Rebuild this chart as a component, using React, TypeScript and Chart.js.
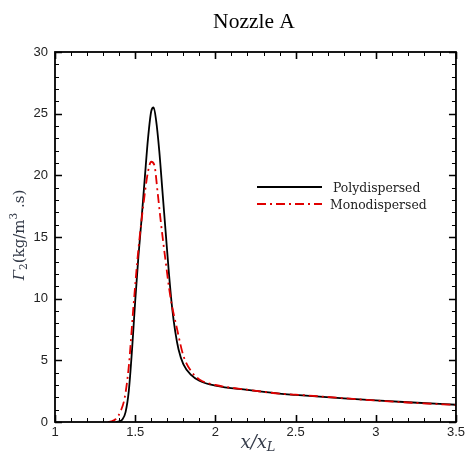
import React, { useEffect, useRef } from "react";
import { Chart, registerables } from "chart.js";

Chart.register(...registerables);

const polyX = [1.38, 1.40, 1.42, 1.44, 1.46, 1.48, 1.50, 1.52, 1.54, 1.56, 1.58, 1.60, 1.615, 1.63, 1.65, 1.67, 1.69, 1.71, 1.73, 1.75, 1.77, 1.80, 1.85, 1.90, 2.00, 2.20, 2.40, 2.50, 2.80, 3.00, 3.20, 3.50];
const polyY = [0, 0.05, 0.2, 0.8, 2.5, 5.8, 9.8, 13.4, 16.5, 19.8, 23.0, 25.2, 25.5, 24.5, 22.0, 18.7, 15.4, 12.1, 9.3, 7.3, 5.9, 4.7, 3.8, 3.35, 2.95, 2.6, 2.3, 2.2, 1.92, 1.75, 1.6, 1.4];

const monoX = [1.33, 1.35, 1.38, 1.41, 1.435, 1.46, 1.49, 1.52, 1.55, 1.58, 1.60, 1.62, 1.64, 1.66, 1.69, 1.72, 1.76, 1.80, 1.85, 1.90, 2.00, 2.20, 2.40, 2.50, 2.80, 3.00, 3.20, 3.50];
const monoY = [0, 0.05, 0.25, 0.9, 2.0, 4.5, 9.5, 14.0, 17.5, 20.3, 21.1, 20.8, 18.6, 16.2, 13.0, 10.1, 7.6, 5.4, 4.1, 3.45, 3.0, 2.62, 2.3, 2.22, 1.93, 1.74, 1.58, 1.38];

const xTicks = [1, 1.5, 2, 2.5, 3, 3.5];
const yTicks = [0, 5, 10, 15, 20, 25, 30];
const seriesNames = ["Polydispersed", "Monodispersed"];

const SERIF = "'DejaVu Serif', serif";
const TIMES = "'Liberation Serif', serif";

const overlay = {
  id: "overlay",
  afterDatasetsDraw(chart: any) {
    const ctx = chart.ctx as CanvasRenderingContext2D;
    const { left, right, top, bottom } = chart.chartArea;
    const xs = chart.scales.x;
    const ys = chart.scales.y;
    ctx.save();
    ctx.strokeStyle = "#000";
    for (let v = 1; v <= 3.5001; v += 0.1) {
      const px = Math.round(xs.getPixelForValue(v)) + 0.5;
      const major = Math.abs(v * 2 - Math.round(v * 2)) < 1e-6;
      const len = major ? 7 : 4;
      ctx.lineWidth = major ? 1.6 : 1;
      ctx.beginPath();
      ctx.moveTo(px, bottom);
      ctx.lineTo(px, bottom - len);
      ctx.moveTo(px, top);
      ctx.lineTo(px, top + len);
      ctx.stroke();
    }
    for (let v = 0; v <= 30; v += 1) {
      const py = Math.round(ys.getPixelForValue(v)) + 0.5;
      const major = v % 5 === 0;
      const len = major ? 7 : 4;
      ctx.lineWidth = major ? 1.6 : 1;
      ctx.beginPath();
      ctx.moveTo(left, py);
      ctx.lineTo(left + len, py);
      ctx.moveTo(right, py);
      ctx.lineTo(right - len, py);
      ctx.stroke();
    }
    ctx.lineWidth = 1.8;
    ctx.strokeRect(left, top, right - left, bottom - top);

    // legend
    const lx0 = 257, lx1 = 322;
    const ly1 = 187, ly2 = 204;
    ctx.lineWidth = 2;
    ctx.strokeStyle = "#000";
    ctx.setLineDash([]);
    ctx.beginPath();
    ctx.moveTo(lx0, ly1);
    ctx.lineTo(lx1, ly1);
    ctx.stroke();
    ctx.strokeStyle = "#e00000";
    ctx.setLineDash([9, 4, 2, 4]);
    ctx.beginPath();
    ctx.moveTo(lx0, ly2);
    ctx.lineTo(lx1, ly2);
    ctx.stroke();
    ctx.setLineDash([]);
    ctx.fillStyle = "#222";
    ctx.font = "12.4px " + SERIF;
    ctx.textBaseline = "middle";
    ctx.textAlign = "left";
    ctx.fillText(seriesNames[0], 333, ly1 + 2);
    ctx.fillText(seriesNames[1], 330, ly2 + 2);

    // title
    ctx.fillStyle = "#000";
    ctx.font = "21.5px " + TIMES;
    ctx.textAlign = "center";
    ctx.textBaseline = "alphabetic";
    ctx.fillText("Nozzle A", 254, 28);

    // x axis title  x/x_L
    ctx.fillStyle = "#333a48";
    const fxBig = "italic 18px " + SERIF;
    const fxSmall = "italic 13px " + SERIF;
    ctx.textAlign = "left";
    ctx.font = fxBig;
    const part1 = "x/x";
    const w1 = ctx.measureText(part1).width;
    ctx.font = fxSmall;
    const w2 = ctx.measureText("L").width;
    const startX = 258 - (w1 + w2) / 2;
    ctx.font = fxBig;
    ctx.fillText(part1, startX, 448);
    ctx.font = fxSmall;
    ctx.fillText("L", startX + w1, 451);

    // y axis title Γ2(kg/m3 . s)
    ctx.translate(24, 235);
    ctx.rotate(-Math.PI / 2);
    const big = "15px " + SERIF;
    const bigI = "italic 15px " + SERIF;
    const small = "10.5px " + SERIF;
    const parts: [string, string, number][] = [
      ["Γ", bigI, 0],
      ["2", small, 3],
      ["(kg/m", big, 0],
      ["3", small, -7],
      [" .s)", big, 0],
    ];
    let total = 0;
    for (const [t, f] of parts) {
      ctx.font = f;
      total += ctx.measureText(t).width;
    }
    let cx = -total / 2;
    ctx.fillStyle = "#333a48";
    for (const [t, f, dy] of parts) {
      ctx.font = f;
      ctx.fillText(t, cx, 0 + dy);
      cx += ctx.measureText(t).width;
    }
    ctx.restore();
  },
};

export default function App() {
  const ref = useRef<HTMLCanvasElement>(null);
  useEffect(() => {
    document.body.style.margin = "0";
    const poly = polyX.map((x, i) => ({ x, y: polyY[i] }));
    const mono = monoX.map((x, i) => ({ x, y: monoY[i] }));
    const chart = new Chart(ref.current!, {
      type: "line",
      data: {
        datasets: [
          {
            label: seriesNames[1],
            data: mono,
            borderColor: "#e00000",
            borderWidth: 1.8,
            borderDash: [9, 4, 2, 4],
            pointRadius: 0,
            cubicInterpolationMode: "monotone",
            fill: false,
          },
          {
            label: seriesNames[0],
            data: poly,
            borderColor: "#000",
            borderWidth: 1.8,
            pointRadius: 0,
            cubicInterpolationMode: "monotone",
            fill: false,
          },
        ],
      },
      options: {
        animation: false,
        responsive: false,
        layout: { padding: { top: 52, right: 11, left: 0, bottom: 0 } },
        plugins: { legend: { display: false }, tooltip: { enabled: false }, title: { display: false } },
        scales: {
          x: {
            type: "linear",
            min: 1,
            max: 3.5,
            afterBuildTicks: (s: any) => {
              s.ticks = xTicks.map((v) => ({ value: v }));
            },
            afterFit: (s: any) => {
              s.height = 34;
            },
            grid: { display: false, drawTicks: false },
            border: { display: false },
            ticks: {
              padding: 3,
              color: "#222",
              font: { family: "'Liberation Sans', Arial, sans-serif", size: 13 },
              callback: (v: any) => String(v),
              maxRotation: 0,
            },
          },
          y: {
            type: "linear",
            min: 0,
            max: 30,
            afterBuildTicks: (s: any) => {
              s.ticks = yTicks.map((v) => ({ value: v }));
            },
            afterFit: (s: any) => {
              s.width = 55;
            },
            grid: { display: false, drawTicks: false },
            border: { display: false },
            ticks: {
              padding: 7,
              color: "#222",
              font: { family: "'Liberation Sans', Arial, sans-serif", size: 13 },
              callback: (v: any) => String(v),
            },
          },
        },
      },
      plugins: [overlay],
    });
    return () => chart.destroy();
  }, []);
  return <canvas ref={ref} width={468} height={456} style={{ display: "block" }} />;
}
